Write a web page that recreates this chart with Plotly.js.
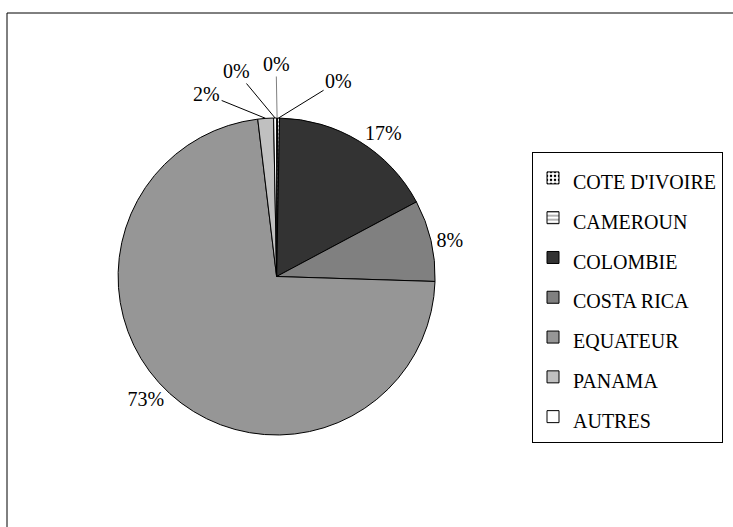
<!DOCTYPE html>
<html><head><meta charset="utf-8">
<script src="https://cdn.plot.ly/plotly-3.0.1.min.js"></script>
<style>html,body{margin:0;padding:0;background:#fff}#chart{width:733px;height:527px}</style>
</head><body><div id="chart"></div>
<script>
const labels = ["COTE D'IVOIRE", "CAMEROUN", "COLOMBIE", "COSTA RICA", "EQUATEUR", "PANAMA", "AUTRES"];
const values = [0.1, 0.2, 16.9, 8.3, 72.6, 1.6, 0.3];
const colors = ["#ffffff", "#ffffff", "#333333", "#808080", "#969696", "#c0c0c0", "#ffffff"];
const patterns = [".", "-", "", "", "", "", ""];
const patternFg = ["#000000", "#808080", "#000000", "#000000", "#000000", "#000000", "#000000"];

const W = 733, H = 527;
const cx = 276.6, cy = 276.5, R = 158.5;
// label offsets (px) for the small slices whose labels sit on leader lines
const leaderOffsets = {0: [-1, -54, '#808080'], 1: [60, -37, '#000000'], 5: [-59, -24, '#000000'], 6: [-39, -47, '#000000']};

const total = values.reduce((a, b) => a + b, 0);
const textpos = values.map((v, i) => (i in leaderOffsets) ? 'none' : 'outside');

const annotations = [];
let cum = 0;
values.forEach((v, i) => {
  const mid = (cum + v / 2) / total;
  cum += v;
  if (!(i in leaderOffsets)) return;
  const th = 2 * Math.PI * mid;
  const px = cx + R * Math.sin(th), py = cy - R * Math.cos(th);
  const o = leaderOffsets[i];
  annotations.push({
    xref: 'paper', yref: 'paper', x: px / W, y: 1 - py / H,
    text: Math.round(100 * v / total) + '%',
    showarrow: true, arrowhead: 0, arrowwidth: 1, arrowcolor: o[2],
    ax: o[0], ay: o[1], standoff: 0,
    font: {family: 'Liberation Serif', size: 20, color: '#000000'}
  });
});

const trace = {
  type: 'pie',
  labels: labels.map(l => '<span style="font-size:20px">' + l + '</span>'),
  values: values,
  sort: false,
  direction: 'clockwise',
  rotation: 0,
  marker: {
    colors: colors,
    line: {color: '#000000', width: 1},
    pattern: {shape: patterns, fgcolor: patternFg, bgcolor: colors, size: 4, solidity: 0.3}
  },
  texttemplate: '%{percent:.0%}',
  textposition: textpos,
  outsidetextfont: {family: 'Liberation Serif', size: 20, color: '#000000'},
  hoverinfo: 'none',
  automargin: false,
  domain: {
    x: [(cx - R) / W, (cx + R) / W],
    y: [(H - cy - R) / H, (H - cy + R) / H]
  }
};

const layout = {
  width: W, height: H,
  margin: {l: 0, r: 0, t: 0, b: 0},
  paper_bgcolor: '#ffffff',
  showlegend: true,
  legend: {
    x: 532 / W, y: 1 - 152 / H, xanchor: 'left', yanchor: 'top',
    bgcolor: '#ffffff', bordercolor: '#000000', borderwidth: 1,
    font: {family: 'Liberation Serif', size: 28.3, color: '#000000'},
    entrywidth: 180, entrywidthmode: 'pixels',
    itemclick: false, itemdoubleclick: false
  },
  annotations: annotations,
  shapes: [{
    type: 'rect', xref: 'paper', yref: 'paper',
    x0: 7 / W, x1: 1.05, y0: -0.05, y1: 1 - 13 / H,
    line: {color: '#000000', width: 1}, fillcolor: 'rgba(0,0,0,0)', layer: 'below'
  }]
};

Plotly.newPlot('chart', [trace], layout, {staticPlot: true});
</script></body></html>
